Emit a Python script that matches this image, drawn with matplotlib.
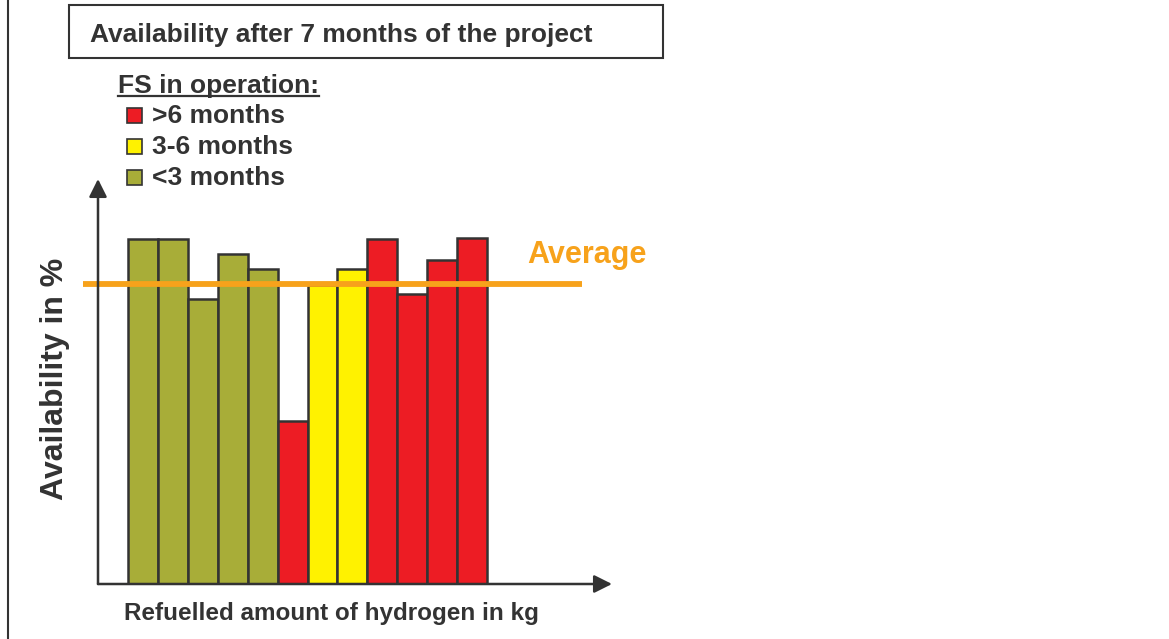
import numpy as np
import matplotlib.pyplot as plt
from matplotlib.patches import Rectangle
from matplotlib.lines import Line2D

plt.rcParams['font.family'] = ['Liberation Sans', 'DejaVu Sans']
plt.rcParams['font.weight'] = 'bold'

# availability per filling station in %, sorted by refuelled amount of hydrogen
availability = [95.8, 95.8, 79.1, 91.8, 87.5, 45.3, 83.0, 87.4, 95.8, 80.6, 90.0, 96.2]
operation = ['<3', '<3', '<3', '<3', '<3', '>6', '3-6', '3-6', '>6', '>6', '>6', '>6']
average = 83.3

legendKeys = ['>6', '3-6', '<3']
legendLabels = ['>6 months', '3-6 months', '<3 months']
groupColors = {'>6': '#ED1C24', '3-6': '#FFF200', '<3': '#A8AD38'}

W, H = 1169, 639
DARK = '#333333'
ORANGE = '#F7A21B'


def fx(px):
    return px / W


def fy(py):
    return 1 - py / H


fig = plt.figure(figsize=(W / 100, H / 100), dpi=100)

# axis origin at (98, 584) px, arrow tips at x=612 / y=179
ax = fig.add_axes([fx(98), fy(584), fx(612) - fx(98), fy(179) - fy(584)])
pxPerBar = 29.87
pxPerPct = 3.6
ax.set_xlim(-0.5 - 30.3 / pxPerBar, -0.5 + (612 - 128.3) / pxPerBar)
ax.set_ylim(0, (584 - 179) / pxPerPct)
ax.axis('off')

xPos = np.arange(len(availability))
ax.bar(xPos, availability, width=1.0, color=[groupColors[g] for g in operation],
       edgecolor=DARK, linewidth=1.8, zorder=2)

# average line and label
n = len(availability)
ax.plot([-2.0, n + 2.7], [average, average], color=ORANGE, lw=4.2,
        solid_capstyle='butt', clip_on=False, zorder=3)
ax.text(n + 0.85, average + 5.9, 'Average', color=ORANGE, fontsize=22,
        ha='left', va='baseline')

# axes drawn as arrows
arrowStyle = dict(arrowstyle='-|>', color=DARK, lw=1.8, mutation_scale=27,
                  shrinkA=0, shrinkB=0)
ax.annotate('', xy=(0, 1), xytext=(0, 0), xycoords='axes fraction',
            arrowprops=arrowStyle, zorder=4)
ax.annotate('', xy=(1, 0), xytext=(0, 0), xycoords='axes fraction',
            arrowprops=arrowStyle, zorder=4)

fig.text(fx(63.5), fy(379), 'Availability in %', fontsize=23, color=DARK,
         rotation=90, rotation_mode='anchor', ha='center', va='baseline')
fig.text(fx(123.5), fy(620), 'Refuelled amount of hydrogen in kg', fontsize=17.5,
         color=DARK, ha='left', va='baseline')

# title box
fig.add_artist(Rectangle((fx(68.5), fy(57.5)), fx(663) - fx(68.5), fy(5) - fy(57.5),
                         transform=fig.transFigure, fill=False, ec=DARK, lw=1.5))
fig.text(fx(90), fy(41.7), 'Availability after 7 months of the project',
         fontsize=19, color=DARK, ha='left', va='baseline')

# left frame line
fig.add_artist(Line2D([fx(8), fx(8)], [0, 1], transform=fig.transFigure,
                      color=DARK, lw=1.5))

# legend
head = fig.text(fx(118), fy(93.3), 'FS in operation:', fontsize=19, color=DARK,
                ha='left', va='baseline')
fig.canvas.draw()
bb = head.get_window_extent(fig.canvas.get_renderer())
fig.add_artist(Line2D([bb.x0 / W, bb.x1 / W], [fy(96), fy(96)],
                      transform=fig.transFigure, color=DARK, lw=1.6))

baselines = [123.3, 154.3, 185.3]
for key, label, base in zip(legendKeys, legendLabels, baselines):
    fig.add_artist(Rectangle((fx(127), fy(base)), fx(15), 15 / H,
                             transform=fig.transFigure, fc=groupColors[key],
                             ec=DARK, lw=1.2))
    fig.text(fx(151.5), fy(base), label, fontsize=19, color=DARK,
             ha='left', va='baseline')

fig.savefig('out.png', dpi=100, facecolor='white')
